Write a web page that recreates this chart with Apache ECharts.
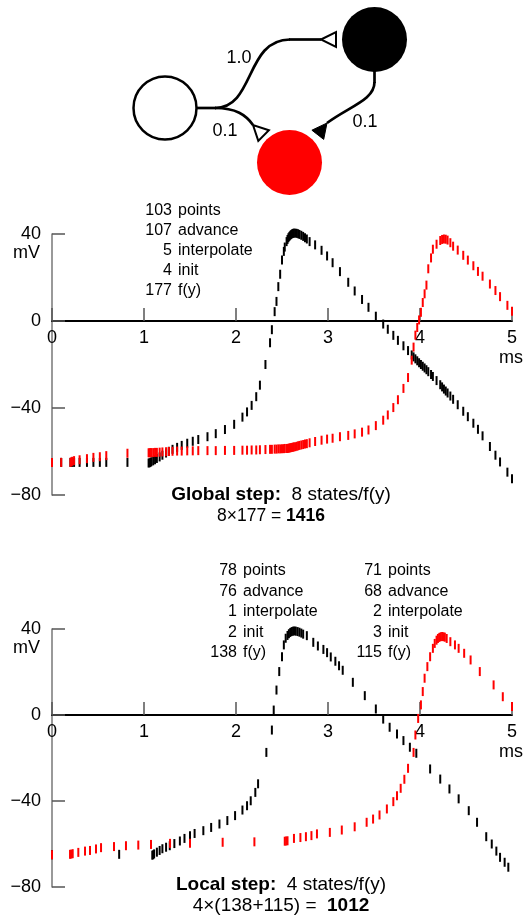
<!DOCTYPE html>
<html>
<head>
<meta charset="utf-8">
<script src="https://cdn.jsdelivr.net/npm/echarts@6/dist/echarts.min.js"></script>
<style>
  html, body { margin: 0; padding: 0; background: #fff; }
  #chart { width: 523px; height: 920px; }
</style>
</head>
<body>
<div id="chart"></div>
<script>
// ---- Global step: both cells share the same time points (ms) ----
const tGlobal = [
  0, 0.10, 0.20, 0.21, 0.22, 0.24, 0.30, 0.38, 0.45, 0.52, 0.59, 0.82,
  1.05, 1.06, 1.07, 1.08, 1.10, 1.12, 1.14, 1.17, 1.20, 1.24, 1.27, 1.31, 1.36, 1.41, 1.47, 1.53, 1.59, 1.69, 1.78, 1.88, 1.98, 2.07, 2.12, 2.17, 2.22,
  2.26, 2.32, 2.37, 2.39, 2.42, 2.44, 2.46, 2.48, 2.50, 2.52, 2.53, 2.55,
  2.56, 2.57, 2.58, 2.59, 2.60, 2.61, 2.62, 2.63, 2.645, 2.66, 2.675, 2.69, 2.71, 2.73, 2.75, 2.77,
  2.80, 2.86, 2.93, 2.99, 3.05, 3.13, 3.22, 3.29, 3.37, 3.44, 3.52, 3.60, 3.65, 3.71, 3.76, 3.82, 3.87,
  3.91, 3.93, 3.95, 3.97, 3.99, 4.01, 4.03, 4.05, 4.07, 4.09, 4.12, 4.14, 4.18, 4.22, 4.24, 4.26, 4.28, 4.30, 4.33, 4.36, 4.41, 4.47, 4.52, 4.58, 4.63, 4.68, 4.76, 4.82, 4.87, 4.95, 5.00
];
// membrane potential (mV) of the black cell
const blackGlobal = [
  -65, -65, -65, -65, -65, -65, -65, -65, -65, -65, -65, -65,
  -65.3, -65.2, -65, -64.7, -64.3, -63.8, -63.2, -62.5, -61.7, -60.7, -59.9, -59.0, -58.1, -57.2, -56.2, -55.3, -54.5, -53.2, -51.8, -49.9, -47.5, -44.2, -41.8, -38.8, -34.8,
  -29.5, -20, -10, -4, 4.3, 9, 15.8, 21.5, 28, 32, 34, 36.5,
  37.5, 38.3, 38.9, 39.4, 39.8, 40.1, 40.3, 40.4, 40.4, 40.3, 40.1, 39.8, 39.4, 38.9, 38.3, 37.7,
  36.5, 35, 32.5, 29.9, 26.8, 22.7, 17.8, 13.8, 9.9, 6.3, 2.2, -1.4, -3.8, -6.6, -8.9, -11.4, -13.6,
  -15.6, -16.5, -17.4, -18.3, -19.2, -20.0, -20.8, -21.6, -22.4, -23.3, -24.6, -25.5, -27.4, -29.3, -30.3, -31.3, -32.2, -33.1, -34.5, -36.0, -38.5, -41.5, -44.0, -47.0, -49.8, -52.8, -57.7, -61.7, -64.8, -69.5, -72.5
];
// membrane potential (mV) of the red cell
const redGlobal = [
  -65, -65, -65, -64.8, -64.5, -64.2, -63.8, -63.3, -62.7, -62.4, -61.9, -60.8,
  -60.6, -60.6, -60.5, -60.5, -60.5, -60.4, -60.4, -60.3, -60.2, -60.1, -60.0, -59.9, -59.8, -59.8, -59.7, -59.7, -59.6, -59.6, -59.6, -59.5, -59.5, -59.4, -59.4, -59.3, -59.3,
  -59.2, -59.1, -59.0, -59.0, -58.9, -58.9, -58.8, -58.8, -58.7, -58.7, -58.6, -58.6,
  -58.6, -58.5, -58.4, -58.3, -58.2, -58.1, -58.0, -57.9, -57.8, -57.6, -57.4, -57.2, -57.0, -56.8, -56.6, -56.4,
  -56.0, -55.4, -54.8, -54.3, -53.9, -53.2, -52.6, -51.9, -51.1, -50.1, -48.1, -45.6, -43.2, -39.8, -36.2, -31.0, -26.0,
  -18, -12, -6.5, -3, 0.5, 4, 8.5, 12.5, 16.5, 24, 29, 33, 35.3, 37, 37.5, 37.7, 37.6, 37.2, 36, 34.4, 32.6, 30.2, 28, 25.4, 22.8, 20.6, 17, 14, 11.2, 7.2, 4.5
];

// ---- Local step: each cell keeps its own time points ----
const tBlackLocal = [
  0, 0.73, 1.09, 1.10, 1.11, 1.14, 1.17, 1.20, 1.24, 1.28, 1.33, 1.39, 1.44, 1.50, 1.55, 1.645, 1.73, 1.82, 1.906, 1.99, 2.07, 2.12, 2.16, 2.21, 2.24,
  2.33, 2.39, 2.41, 2.44, 2.47, 2.50, 2.52, 2.54,
  2.56, 2.575, 2.59, 2.605, 2.62, 2.635, 2.65, 2.67, 2.69, 2.71, 2.73,
  2.77, 2.84, 2.89, 2.95, 2.99, 3.03, 3.08, 3.12, 3.16, 3.27, 3.40, 3.52, 3.60, 3.67, 3.75, 3.82, 3.89, 3.96,
  4.11, 4.22, 4.32, 4.42, 4.53, 4.62, 4.72, 4.78, 4.83, 4.87, 4.92, 4.96
];
const blackLocal = [
  -65, -64.8, -65.2, -65, -64.6, -63.8, -63, -62.2, -61.5, -60.8, -59.8, -58.6, -57.4, -56.2, -55.1, -53.8, -52.3, -50.7, -49.1, -46.8, -44.2, -42.2, -39.9, -36, -32,
  -17.4, -7, 2.3, 11.6, 20.2, 27.1, 32.6, 35.7,
  37, 37.8, 38.4, 38.8, 39, 39.1, 39, 38.8, 38.5, 38.1, 37.6,
  36.9, 33.8, 32.1, 30.5, 29, 27, 25, 22.9, 20.8, 15.2, 9, 2.8, -1.9, -5.7, -8.8, -11.9, -15, -17.8,
  -25.1, -29.8, -34.4, -39, -44.5, -49.9, -56.6, -60, -63.3, -66.2, -68.5, -70.8
];
const tRedLocal = [
  0, 0.196, 0.21, 0.225, 0.286, 0.359, 0.413, 0.478, 0.533, 0.674, 0.804, 0.938, 1.076, 1.283, 1.5, 1.855, 2.2,
  2.53, 2.545, 2.56, 2.63, 2.70, 2.76, 2.82, 2.88, 3.02, 3.15, 3.29, 3.42, 3.49, 3.56, 3.64, 3.71, 3.75, 3.79, 3.83, 3.87,
  3.93, 3.95, 3.98, 4.01, 4.03, 4.05, 4.08, 4.11, 4.14, 4.16, 4.18, 4.195, 4.21, 4.225, 4.24, 4.255, 4.27, 4.29,
  4.33, 4.38, 4.42, 4.48, 4.55, 4.65, 4.80, 4.90, 5.00
];
const redLocal = [
  -65, -64.8, -64.7, -64.5, -63.9, -63.3, -63, -62.3, -61.7, -61.2, -60.8, -60.5, -60.2, -59.7, -59.6, -59.2, -59,
  -58.7, -58.6, -58.5, -57.4, -57, -56.6, -56.1, -55.3, -54.6, -53.5, -52, -49.9, -48.4, -46.5, -43.7, -40.3, -37.5, -34.1, -29.9, -24.8,
  -17.4, -9.3, -1.6, 4.7, 10.9, 17.1, 22.5, 27.1, 31, 33.3, 34.8, 35.6, 36.1, 36.4, 36.5, 36.4, 36.2, 35.6,
  34.1, 32.6, 31, 28.7, 25.6, 20.2, 14, 8.5, 3.9
];

// ---- integrator statistics ----
const statNames = ['points', 'advance', 'interpolate', 'init', 'f(y)'];
const statsGlobal = [103, 107, 5, 4, 177];
const statsBlackLocal = [78, 76, 1, 2, 138];
const statsRedLocal = [71, 68, 2, 3, 115];

// ---- axes ----
const xTicks = [0, 1, 2, 3, 4, 5];
const yTicks = [-80, -40, 0, 40];

const FONT = '"Liberation Sans", Arial, Helvetica, sans-serif';
const zip = (xs, ys) => xs.map((x, i) => [x, ys[i]]);
const minus = v => (v < 0 ? '\u2212' + Math.abs(v) : String(v));

const grids = [
  { left: 52, top: 234, width: 460, height: 261 },
  { left: 52, top: 629, width: 460, height: 258 }
];
const yMin = yTicks[0], yMax = yTicks[yTicks.length - 1];

// the time axis runs along 0 mV: shift it up from the grid bottom by the 0 mV height
function xAxisFor(gridIndex) {
  const h = grids[gridIndex].height;
  return {
    gridIndex, type: 'value', position: 'bottom',
    offset: -h * (0 - yMin) / (yMax - yMin),
    min: xTicks[0], max: xTicks[xTicks.length - 1], interval: 1,
    axisLine: { show: true, onZero: false, lineStyle: { color: '#000', width: 2 } },
    axisTick: { show: true, inside: true, length: 13, lineStyle: { color: '#555', width: 1.5 } },
    axisLabel: { fontSize: 18, color: '#000', margin: 8, fontFamily: FONT },
    splitLine: { show: false },
    name: 'ms', nameLocation: 'end', nameGap: -13, nameMoveOverlap: false,
    nameTextStyle: { fontSize: 18, color: '#000', fontFamily: FONT, align: 'left', verticalAlign: 'top', padding: [28, 0, 0, 0] }
  };
}
function yAxisFor(gridIndex) {
  return {
    gridIndex, type: 'value',
    min: yMin, max: yMax, interval: 40,
    axisLine: { show: true, onZero: false, lineStyle: { color: '#777', width: 1.5 } },
    axisTick: { show: true, inside: true, length: 13, lineStyle: { color: '#555', width: 1.5 } },
    axisLabel: { fontSize: 18, color: '#000', margin: 11, fontFamily: FONT, formatter: minus },
    splitLine: { show: false },
    name: 'mV', nameLocation: 'end', nameGap: -10, nameMoveOverlap: false,
    nameTextStyle: { fontSize: 18, color: '#000', fontFamily: FONT, align: 'right', verticalAlign: 'top', padding: [0, 12, 0, 0] }
  };
}
function dashes(xAxisIndex, data, color) {
  return {
    type: 'scatter', xAxisIndex, yAxisIndex: xAxisIndex, data,
    symbol: 'rect', symbolSize: [2, 9],
    itemStyle: { color, opacity: 1 },
    clip: false, silent: true
  };
}

// ---- network sketch above the plots ----
const INK = '#000';
const centered = { align: 'center', verticalAlign: 'middle', textAlign: 'center', textVerticalAlign: 'middle' };
const net = [
  { type: 'circle', shape: { cx: 165, cy: 108, r: 31.5 }, style: { fill: '#fff', stroke: INK, lineWidth: 2.5 } },
  { type: 'circle', shape: { cx: 374.5, cy: 39.5, r: 32.5 }, style: { fill: '#000' } },
  { type: 'circle', shape: { cx: 289.5, cy: 162.5, r: 32.5 }, style: { fill: '#ff0000' } },
  // white -> black
  { type: 'line', shape: { x1: 196.5, y1: 108, x2: 216, y2: 108 }, style: { stroke: INK, lineWidth: 2.7 } },
  { type: 'bezierCurve', shape: { x1: 215, y1: 108, cpx1: 255, cpy1: 108, cpx2: 245, cpy2: 39.5, x2: 290, y2: 39.5 }, style: { stroke: INK, lineWidth: 2.7, fill: null } },
  { type: 'line', shape: { x1: 289, y1: 39.5, x2: 321, y2: 39.5 }, style: { stroke: INK, lineWidth: 2.7 } },
  { type: 'polygon', shape: { points: [[321, 39.5], [336, 32], [336, 47]] }, style: { fill: '#fff', stroke: INK, lineWidth: 2 } },
  // white -> red
  { type: 'bezierCurve', shape: { x1: 215, y1: 108, cpx1: 236, cpy1: 108, cpx2: 246, cpy2: 115, x2: 253, y2: 125 }, style: { stroke: INK, lineWidth: 2.7, fill: null } },
  { type: 'polygon', shape: { points: [[253, 125], [258.3, 140.9], [268.9, 130.3]] }, style: { fill: '#fff', stroke: INK, lineWidth: 2 } },
  // black -> red
  { type: 'line', shape: { x1: 374.5, y1: 71, x2: 374.5, y2: 83 }, style: { stroke: INK, lineWidth: 2.7 } },
  { type: 'bezierCurve', shape: { x1: 374.5, y1: 82, cpx1: 374.5, cpy1: 100, cpx2: 350, cpy2: 106, x2: 327, y2: 123 }, style: { stroke: INK, lineWidth: 2.7, fill: null } },
  { type: 'polygon', shape: { points: [[327, 123], [323.7, 139.4], [311.9, 130.2]] }, style: { fill: INK, stroke: INK, lineWidth: 1 } },
  // synaptic weights
  { type: 'text', x: 239, y: 58, style: Object.assign({ text: '1.0', fontSize: 18, fontFamily: FONT, fill: INK }, centered) },
  { type: 'text', x: 225, y: 131, style: Object.assign({ text: '0.1', fontSize: 18, fontFamily: FONT, fill: INK }, centered) },
  { type: 'text', x: 365, y: 122, style: Object.assign({ text: '0.1', fontSize: 18, fontFamily: FONT, fill: INK }, centered) }
];

// ---- statistics blocks ----
function statBlock(values, numRight, top, step) {
  const out = [];
  values.forEach((v, i) => {
    const y = top + i * step;
    out.push({ type: 'text', x: numRight, y, style: { text: String(v), fontSize: 16, fontFamily: FONT, fill: INK, align: 'right', verticalAlign: 'middle', textAlign: 'right', textVerticalAlign: 'middle' } });
    out.push({ type: 'text', x: numRight + 6, y, style: { text: statNames[i], fontSize: 16, fontFamily: FONT, fill: INK, align: 'left', verticalAlign: 'middle', textAlign: 'left', textVerticalAlign: 'middle' } });
  });
  return out;
}
function richLine(text, x, y, size) {
  return {
    type: 'text', x, y,
    style: Object.assign({
      text, fill: INK, fontSize: size, fontFamily: FONT,
      rich: {
        b: { fontWeight: 'bold', fontSize: size, fontFamily: FONT, fill: INK },
        n: { fontSize: size, fontFamily: FONT, fill: INK }
      }
    }, centered)
  };
}

const totalGlobal = 8 * statsGlobal[4];
const totalLocal = 4 * (statsBlackLocal[4] + statsRedLocal[4]);

const texts = [].concat(
  statBlock(statsGlobal, 172, 211, 19.8),
  statBlock(statsBlackLocal, 237, 571, 20.5),
  statBlock(statsRedLocal, 382, 571, 20.5),
  [
    richLine('{b|Global step:}{n|  8 states/f(y)}', 281, 495, 19),
    richLine('{n|8\u00d7' + statsGlobal[4] + ' = }{b|' + totalGlobal + '}', 271, 516, 17.5),
    richLine('{b|Local step:}{n|  4 states/f(y)}', 281, 885, 19),
    richLine('{n|4\u00d7(' + statsBlackLocal[4] + '+' + statsRedLocal[4] + ') =  }{b|' + totalLocal + '}', 281, 906, 19)
  ]
);

const chart = echarts.init(document.getElementById('chart'), null, { renderer: 'canvas', width: 523, height: 920 });
chart.setOption({
  animation: false,
  backgroundColor: '#fff',
  textStyle: { fontFamily: FONT },
  grid: grids.map(g => Object.assign({ containLabel: false, outerBoundsMode: 'none' }, g)),
  xAxis: [xAxisFor(0), xAxisFor(1)],
  yAxis: [yAxisFor(0), yAxisFor(1)],
  series: [
    dashes(0, zip(tGlobal, blackGlobal), '#000'),
    dashes(0, zip(tGlobal, redGlobal), '#ff0000'),
    dashes(1, zip(tBlackLocal, blackLocal), '#000'),
    dashes(1, zip(tRedLocal, redLocal), '#ff0000')
  ],
  graphic: { elements: net.concat(texts) }
});
</script>
</body>
</html>
